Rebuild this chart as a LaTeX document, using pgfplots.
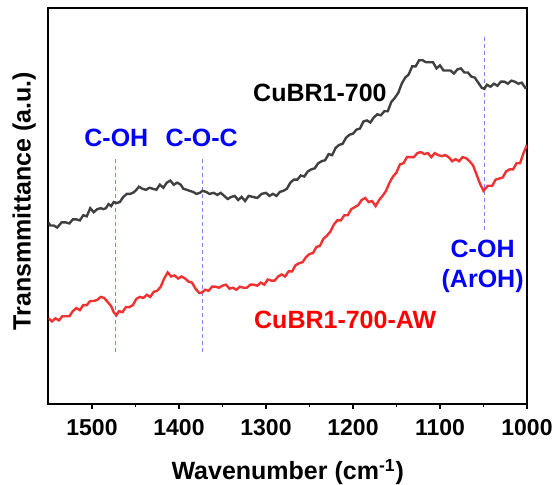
\documentclass[border=0pt]{standalone}
\usepackage{fontspec}
\setmainfont{Liberation Sans}
\usepackage{pgfplots}
\pgfplotsset{compat=1.18}
\definecolor{curvegray}{RGB}{64,64,64}
\definecolor{curvered}{RGB}{240,50,50}
\definecolor{dashblue}{RGB}{130,130,255}
\definecolor{txtblue}{RGB}{0,0,255}
\definecolor{txtred}{RGB}{255,0,0}

\pgfplotstableread{
wn y
1550 178
1548 175
1544 175
1540 173
1535 178
1530 178
1526 177
1522 181
1518 181
1514 180
1510 185
1506 184
1502 192
1498 188
1494 191
1490 192
1487 191
1484 192
1481 196
1478 194
1475 198
1472 197
1468 198
1464 203
1460 206
1456 206
1453 207
1450 209
1446 213
1442 211
1438 210
1434 212
1430 211
1426 210
1422 215
1418 212
1414 217
1410 219
1406 215
1402 217
1398 215
1395 211
1391 210
1388 209
1384 208
1380 206
1376 207
1373 209
1369 208
1365 206
1360 207
1356 205
1352 207
1348 204
1344 201
1340 203
1336 204
1332 200
1328 203
1324 199
1320 204
1315 203
1310 202
1305 206
1300 207
1296 204
1292 206
1288 204
1284 208
1280 209
1276 211
1272 217
1268 220
1264 220
1260 224
1256 223
1252 228
1248 230
1244 231
1240 236
1236 238
1232 239
1228 245
1224 244
1220 251
1216 254
1212 255
1208 261
1204 264
1200 265
1196 269
1192 270
1188 277
1184 278
1180 276
1176 281
1172 284
1168 283
1164 287
1160 287
1156 296
1152 300
1148 305
1144 314
1140 320
1136 323
1132 331
1128 331
1124 337
1120 337
1116 335
1112 335
1108 335
1104 329
1100 332
1096 327
1092 327
1088 327
1084 324
1080 328
1076 329
1072 325
1068 325
1064 321
1060 320
1056 315
1052 310
1049 309
1046 313
1042 311
1038 314
1034 312
1030 316
1026 316
1022 314
1018 317
1014 316
1010 314
1006 315
1002 310
1000 311
}\cubr

\pgfplotstableread{
wn y
1550 84
1546 81
1542 84
1538 82
1534 86
1530 86
1526 86
1522 91
1518 94
1514 92
1510 97
1506 97
1502 101
1498 101
1494 102
1490 105
1486 104
1482 100
1478 96
1475 90
1472 87
1469 91
1465 90
1461 95
1457 95
1453 97
1449 103
1445 105
1441 104
1437 107
1433 105
1429 110
1425 111
1421 115
1417 123
1413 129
1409 125
1405 126
1401 123
1397 125
1393 123
1389 120
1385 119
1381 113
1377 109
1374 109
1370 112
1366 111
1362 115
1358 115
1354 114
1350 116
1346 117
1342 113
1338 114
1334 112
1330 115
1326 114
1322 114
1318 117
1314 117
1310 116
1306 119
1302 117
1298 122
1294 121
1290 121
1286 125
1282 127
1278 125
1274 130
1270 130
1266 136
1262 138
1258 139
1254 144
1250 147
1246 148
1242 154
1238 155
1234 162
1230 165
1226 169
1222 176
1218 180
1214 180
1210 185
1206 185
1202 191
1198 193
1194 195
1190 200
1186 202
1182 198
1178 199
1174 194
1170 200
1166 204
1162 209
1158 217
1154 223
1150 227
1146 235
1142 236
1138 242
1134 242
1130 242
1126 246
1122 247
1118 245
1114 246
1110 242
1106 246
1102 244
1098 243
1094 244
1090 242
1086 238
1082 240
1078 238
1074 242
1070 241
1066 238
1062 234
1058 225
1054 216
1050 209
1048 211
1045 214
1040 214
1036 220
1032 221
1028 222
1024 228
1020 230
1016 230
1012 236
1008 236
1004 246
1000 254
}\cubraw

\begin{document}
\begin{tikzpicture}
\path[use as bounding box] (-24.25pt,-40.5pt) rectangle (254.25pt,202pt);
\begin{axis}[
    at={(0,0)}, anchor=south west,
    scale only axis,
    width=239.25pt, height=194pt,
    x dir=reverse,
    xmin=1000, xmax=1550,
    ymin=0, ymax=388,
    xtick={1000,1100,1200,1300,1400,1500},
    minor xtick={1050,1150,1250,1350,1450},
    xtick pos=left,
    ytick=\empty,
    tick align=outside,
    major tick length=2.5pt,
    minor tick length=1.5pt,
    tick style={line width=0.9pt, black},
    axis line style={line width=1pt},
    /pgf/number format/assume math mode=true,
    /pgf/number format/1000 sep={},
    xticklabel style={font=\fontsize{11.5}{13}\selectfont\bfseries, yshift=-1.5pt},
    xlabel={Wavenumber (cm\textsuperscript{-1})},
    xlabel style={font=\fontsize{12.5}{14}\selectfont\bfseries,
        at={(axis description cs:0.5,-0.172)}, anchor=center},
    ylabel={Transmmittance (a.u.)},
    ylabel style={font=\fontsize{12.5}{14}\selectfont\bfseries,
        at={(axis description cs:-0.051,0.513)}, anchor=center},
    clip=true,
]
% marker lines
\addplot[dashblue, line width=0.6pt, dash pattern=on 2pt off 1.5pt] coordinates {(1473,51) (1473,241)};
\addplot[dashblue, line width=0.6pt, dash pattern=on 2pt off 1.5pt] coordinates {(1373,51) (1373,241)};
\addplot[dashblue, line width=0.6pt, dash pattern=on 2pt off 1.5pt] coordinates {(1049,171) (1049,361)};

\addplot[curvegray, line width=1.2pt] table[x=wn, y=y] {\cubr};
\addplot[curvered, line width=1.2pt] table[x=wn, y=y] {\cubraw};

\node[font=\fontsize{12.5}{14}\selectfont\bfseries, text=txtblue] at (axis cs:1472,261) {C-OH};
\node[font=\fontsize{12.5}{14}\selectfont\bfseries, text=txtblue] at (axis cs:1374,261) {C-O-C};
\node[font=\fontsize{12.5}{14}\selectfont\bfseries, text=black] at (axis cs:1238,305) {CuBR1-700};
\node[font=\fontsize{12.5}{14}\selectfont\bfseries, text=txtblue] at (axis cs:1051,152) {C-OH};
\node[font=\fontsize{12.5}{14}\selectfont\bfseries, text=txtblue] at (axis cs:1051,121) {(ArOH)};
\node[font=\fontsize{12.5}{14}\selectfont\bfseries, text=txtred] at (axis cs:1209,82) {CuBR1-700-AW};
\end{axis}
\end{tikzpicture}
\end{document}
